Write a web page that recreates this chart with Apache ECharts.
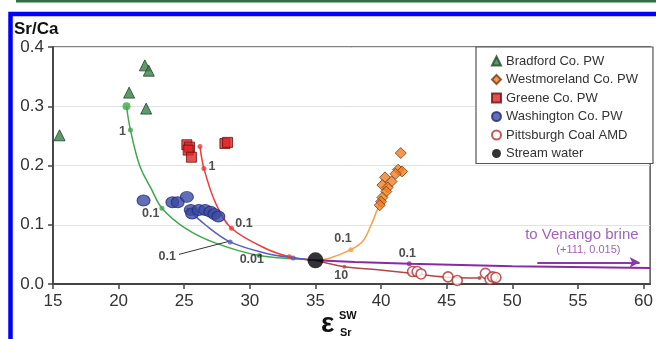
<!DOCTYPE html>
<html><head><meta charset="utf-8">
<script src="https://cdn.jsdelivr.net/npm/echarts@6/dist/echarts.min.js"></script>
<style>html,body{margin:0;padding:0;background:#fff}#c{width:656px;height:339px}</style>
</head><body><div id="c"></div>
<script>
const xTickValues=[15,20,25,30,35,40,45,50,55,60];
const yTickValues=[0,0.1,0.2,0.3,0.4];
const seriesNames=['Bradford Co. PW','Westmoreland Co. PW','Greene Co. PW','Washington Co. PW','Pittsburgh Coal AMD','Stream water'];
const bradford=[[15.5,0.251],[20.8,0.323],[22.0,0.369],[22.3,0.360],[22.1,0.296]];
const westmoreland=[[41.5,0.221],[41.3,0.193],[41.6,0.190],[41.1,0.186],[40.3,0.180],[40.8,0.173],[40.1,0.167],[40.5,0.163],[40.4,0.156],[40.1,0.146],[40.0,0.139],[39.9,0.133]];
const greene=[[25.2,0.235],[25.4,0.231],[25.3,0.226],[25.55,0.214],[28.1,0.237],[28.3,0.239]];
const washington=[[21.9,0.141],[24.1,0.138],[24.5,0.138],[25.2,0.147],[25.5,0.125],[25.6,0.119],[26.1,0.125],[26.6,0.125],[27.0,0.122],[27.3,0.118],[27.6,0.114]];
const pittsburgh=[[42.4,0.021],[42.75,0.021],[43.05,0.017],[45.1,0.012],[45.8,0.006],[47.95,0.018],[48.3,0.008],[48.5,0.012],[48.75,0.011]];
const streamWater=[[35,0.040]];
// mixing curves
const greenCurve=[[20.6,0.300],[20.9,0.260],[21.6,0.200],[22.5,0.160],[23.3,0.128],[25.1,0.094],[27.4,0.069],[30.7,0.048],[33.7,0.042],[35,0.040]];
const redCurve=[[26.2,0.232],[26.5,0.195],[27.4,0.136],[28.6,0.094],[31.2,0.060],[33.2,0.045],[35,0.040]];
const blueCurve=[[25.2,0.128],[26.6,0.100],[28.5,0.071],[31.2,0.052],[33.4,0.044],[35,0.040]];
const orangeCurve=[[35,0.040],[36.0,0.043],[37.7,0.058],[38.6,0.072],[39.25,0.100],[39.75,0.128],[40.0,0.142]];
const amdCurve=[[35,0.040],[37.2,0.029],[39.75,0.024],[42.3,0.018],[44.8,0.012],[47.6,0.010]];
const purpleCurve=[[35,0.040],[38,0.037],[42.2,0.034],[50,0.030],[60.5,0.027]];
const greenTicks=[[20.9,0.260],[23.3,0.128],[30.7,0.048]];
const greenStart=[[20.6,0.300]];
const redTicks=[[26.2,0.232],[26.5,0.195],[28.6,0.094],[33.0,0.046]];
const blueTicks=[[28.5,0.071],[33.3,0.044]];
const orangeTicks=[[37.7,0.058]];
const purpleTicks=[[42.15,0.034]];
const amdTicks=[[37.2,0.029],[47.5,0.010]];
const fractionLabels=[[20.3,0.258,'1'],[22.45,0.119,'0.1'],[27.12,0.198,'1'],[29.55,0.102,'0.1'],[23.7,0.047,'0.1'],[30.15,0.0405,'0.01'],[37.1,0.077,'0.1'],[36.97,0.015,'10'],[42.0,0.052,'0.1']];
const leaderLine=[[24.6,0.050],[28.4,0.072]];
const venangoArrow=[[51.9,0.0365],[59.7,0.0365]];
const venangoText=[[55.3,0.083,'to Venango brine']];
const venangoSub=[[55.8,0.057,'(+111, 0.015)']];

const chart=echarts.init(document.getElementById('c'),null,{renderer:'canvas'});
const FONT='"Liberation Sans", Arial, sans-serif';
function curve(data,color,w){return {type:'line',data:data,smooth:0.35,symbol:'none',silent:true,lineStyle:{color:color,width:w||1.5},z:3};}
function dots(data,color,size){return {type:'scatter',data:data,symbol:'circle',symbolSize:size||5,silent:true,itemStyle:{color:color},z:4};}
const option={
  animation:false,
  backgroundColor:'#fff',
  textStyle:{fontFamily:FONT},
  grid:{left:53,top:47,right:1.5,bottom:55,show:true,borderColor:'#555',borderWidth:1.5,backgroundColor:'transparent'},
  xAxis:{type:'value',min:15,max:60.5,
    axisLine:{lineStyle:{color:'#444',width:1.8}},
    axisTick:{customValues:xTickValues,length:5,lineStyle:{color:'#444',width:1.5}},
    axisLabel:{customValues:xTickValues,fontSize:17,color:'#333',margin:9,fontFamily:FONT},
    splitLine:{show:false}},
  yAxis:{type:'value',min:0,max:0.4,interval:0.1,
    axisLine:{show:true,lineStyle:{color:'#444',width:1.8}},
    axisTick:{show:true,length:5,lineStyle:{color:'#444',width:1.5}},
    axisLabel:{fontSize:17,color:'#333',margin:9,fontFamily:FONT,formatter:v=>v.toFixed(1)},
    splitLine:{show:true,lineStyle:{color:'#e2e2e2',width:1}}},
  legend:{data:seriesNames,orient:'vertical',left:476,top:47,
    padding:[7,15,3,15],itemGap:4.5,itemWidth:9,itemHeight:9,
    backgroundColor:'#fff',borderColor:'#555',borderWidth:1.2,
    textStyle:{fontSize:13,color:'#333',fontFamily:FONT,lineHeight:14},selectedMode:false},
  graphic:[
    {type:'rect',shape:{x:10.5,y:14,width:700,height:400},style:{fill:'none',stroke:'#0000ff',lineWidth:4.5},z:100},
    {type:'rect',shape:{x:16,y:0,width:700,height:2.5},style:{fill:'#2f6e45'},z:100},
    {type:'text',left:14,top:21,style:{text:'Sr/Ca',font:'bold 17px '+FONT,fill:'#111'}},
    {type:'text',left:321,top:310,style:{text:'ε',font:'bold 28px '+FONT,fill:'#111'}},
    {type:'text',left:339,top:310,style:{text:'SW',font:'bold 11px '+FONT,fill:'#111'}},
    {type:'text',left:340,top:327,style:{text:'Sr',font:'bold 11px '+FONT,fill:'#111'}}
  ],
  series:[
    curve(greenCurve,'#3fa84a'),
    curve(redCurve,'#ee3b3b'),
    curve(blueCurve,'#5560c0'),
    curve(orangeCurve,'#f5a04e'),
    curve(amdCurve,'#b04848'),
    Object.assign(curve(purpleCurve,'#8a2aa3',2),{smooth:false,
      markLine:{silent:true,symbol:['none','arrow'],symbolSize:[8,10],label:{show:false},
        lineStyle:{color:'#8a3aa8',width:2,type:'solid'},
        data:[[{coord:venangoArrow[0]},{coord:venangoArrow[1]}]]}}),
    {type:'line',data:leaderLine,symbol:'none',silent:true,lineStyle:{color:'#333',width:1},z:3},
    dots(greenTicks,'#3fa84a',5),
    dots(greenStart,'#3fa84a',8),
    dots(redTicks,'#ee3b3b',5),
    dots(blueTicks,'#5560c0',5),
    dots(orangeTicks,'#f5a04e',5),
    dots(purpleTicks,'#8a2aa3',5),
    dots(amdTicks,'#b04848',4),
    {name:seriesNames[0],type:'scatter',data:bradford,symbol:'triangle',symbolSize:11,
      itemStyle:{color:'#3a7d47',borderColor:'#1d4a28',borderWidth:1},z:5},
    {name:seriesNames[1],type:'scatter',data:westmoreland,symbol:'diamond',symbolSize:11,
      itemStyle:{color:'#ee7f24',borderColor:'#7a3a10',borderWidth:1},z:5},
    {name:seriesNames[2],type:'scatter',data:greene,symbol:'rect',symbolSize:10,
      itemStyle:{color:'#e02424',borderColor:'#6a1010',borderWidth:1},z:5},
    {name:seriesNames[3],type:'scatter',data:washington,symbol:'circle',symbolSize:[13,11],
      itemStyle:{color:'#3b4aa3',borderColor:'#1f2a78',borderWidth:1},z:5},
    {name:seriesNames[4],type:'scatter',data:pittsburgh,symbol:'circle',symbolSize:10,
      itemStyle:{color:'#fff',borderColor:'#b03030',borderWidth:1.6},z:5},
    {name:seriesNames[5],type:'scatter',data:streamWater,symbol:'circle',symbolSize:16,
      itemStyle:{color:'#000'},z:6},
    {type:'scatter',data:fractionLabels,symbolSize:0,silent:true,z:7,
      label:{show:true,position:'inside',formatter:p=>p.value[2],fontSize:12.5,fontWeight:'bold',color:'#222',fontFamily:FONT}},
    {type:'scatter',data:venangoText,symbolSize:0,silent:true,z:7,
      label:{show:true,position:'inside',formatter:p=>p.value[2],fontSize:15,color:'#8a3aa8',fontFamily:FONT}},
    {type:'scatter',data:venangoSub,symbolSize:0,silent:true,z:7,
      label:{show:true,position:'inside',formatter:p=>p.value[2],fontSize:11,color:'#8a3aa8',fontFamily:FONT}}
  ]
};
chart.setOption(option);
</script></body></html>
